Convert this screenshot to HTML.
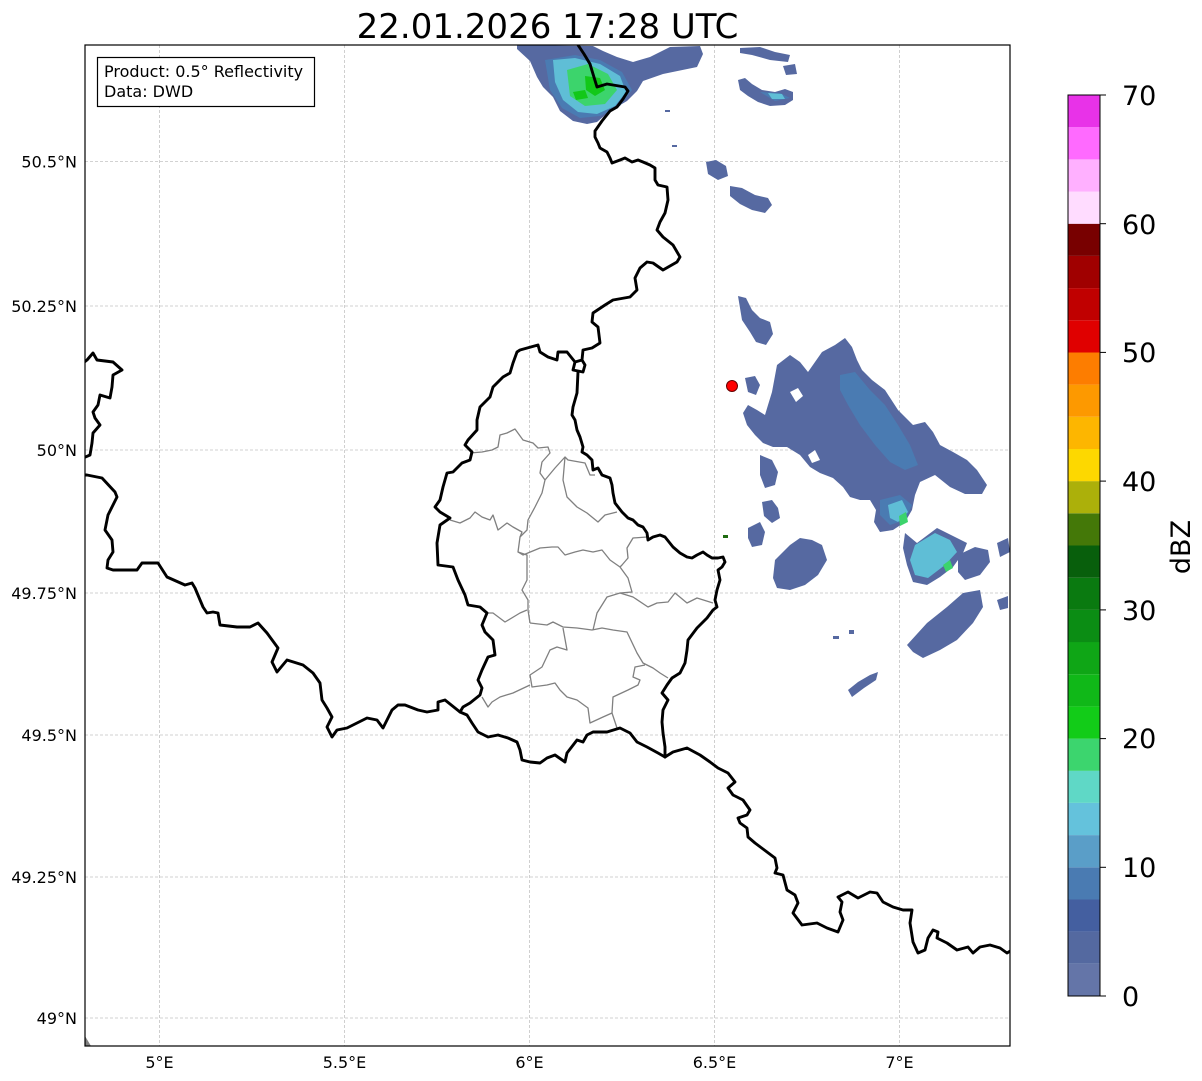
<!DOCTYPE html>
<html><head><meta charset="utf-8"><style>
html,body{margin:0;padding:0;background:#fff;}
svg{display:block;}
text{font-family:"DejaVu Sans","Liberation Sans",sans-serif;fill:#000;}
</style></head><body>
<svg width="1202" height="1081" viewBox="0 0 1202 1081" xmlns="http://www.w3.org/2000/svg">
<rect width="1202" height="1081" fill="#fff"/>
<text x="547.5" y="38" font-size="34" text-anchor="middle">22.01.2026 17:28 UTC</text>

<defs><clipPath id="ax"><rect x="85" y="45" width="925" height="1001"/></clipPath></defs>
<g clip-path="url(#ax)">
<!-- grid -->
<g stroke="#c4c4c4" stroke-width="0.8" stroke-dasharray="3 2" fill="none">
<line x1="159.5" y1="45" x2="159.5" y2="1046"/><line x1="344.5" y1="45" x2="344.5" y2="1046"/>
<line x1="529.5" y1="45" x2="529.5" y2="1046"/><line x1="714.5" y1="45" x2="714.5" y2="1046"/>
<line x1="899.5" y1="45" x2="899.5" y2="1046"/>
<line x1="85" y1="161.5" x2="1010" y2="161.5"/><line x1="85" y1="306" x2="1010" y2="306"/>
<line x1="85" y1="450" x2="1010" y2="450"/><line x1="85" y1="593" x2="1010" y2="593"/>
<line x1="85" y1="735" x2="1010" y2="735"/><line x1="85" y1="877" x2="1010" y2="877"/>
<line x1="85" y1="1018" x2="1010" y2="1018"/>
</g>

<!-- radar echoes -->
<g fill="#5669a1">
<polygon points="517,45 593,46 603,51 617,57 633,62 650,57 670,47 700,46 703,54 697,67 663,74 643,81 637,91 627,101 610,111 597,122 587,124 573,121 560,111 553,97 543,87 537,77 530,61 517,49"/>
<rect x="665" y="110" width="5" height="2"/><rect x="672" y="145" width="5" height="2"/>
<polygon points="738,80 745,78 752,84 762,90 775,92 785,89 793,92 793,100 785,105 770,106 758,102 748,96 740,90"/>
<polygon points="740,48 760,47 775,52 790,55 788,62 770,60 752,55 740,53"/>
<polygon points="783,66 795,64 797,74 786,75"/>
<polygon points="706,162 716,160 726,166 728,176 718,180 708,174"/>
<polygon points="730,186 742,188 755,195 768,198 772,205 765,213 752,210 740,204 730,196"/>
<polygon points="738,296 746,298 752,310 760,318 770,322 773,334 766,345 756,342 750,332 742,320 740,308"/>
<polygon points="777,365 790,355 800,362 808,372 815,362 822,352 835,345 845,338 852,347 857,360 862,370 872,380 885,390 898,410 913,425 925,422 933,432 940,445 953,452 967,460 977,470 987,485 982,494 965,494 950,487 935,475 920,482 915,495 912,510 905,522 893,530 880,532 874,522 876,510 870,500 860,500 850,497 843,487 833,478 820,473 810,467 800,455 787,447 773,447 763,443 755,435 747,425 743,413 748,405 757,410 765,415 768,405 772,392"/>
<polygon points="745,378 755,376 760,385 756,395 748,392"/>
<polygon points="760,455 772,460 778,472 775,485 765,488 760,475"/>
<polygon points="748,528 760,522 765,532 762,545 752,547 748,538"/>
<polygon points="762,502 772,500 778,508 780,518 772,523 764,516"/>
<polygon points="775,560 790,545 800,538 812,540 822,545 827,560 818,575 805,585 790,590 777,588 773,578"/>
<polygon points="905,533 917,543 937,528 947,533 957,538 967,543 963,553 953,567 940,577 927,585 913,582 907,565 903,548"/>
<polygon points="958,555 975,547 988,550 990,562 980,575 965,580 958,572"/>
<polygon points="997,543 1008,538 1010,552 1000,557"/>
<polygon points="997,600 1008,596 1008,608 1000,610"/>
<polygon points="907,645 927,623 947,607 963,593 980,590 983,607 973,623 957,640 940,650 923,658 913,652"/>
<polygon points="848,690 858,682 870,675 878,672 876,680 864,688 852,697"/>
<rect x="833" y="636" width="6" height="3"/><rect x="849" y="630" width="5" height="4"/>
</g>
<g fill="#fff">
<polygon points="790,392 798,388 803,396 796,402"/>
<polygon points="808,455 815,450 820,460 812,463"/>
</g>
<g fill="#4a7bb2">
<polygon points="545,60 575,55 600,60 622,72 632,90 620,106 600,116 580,118 562,108 550,90"/>
<polygon points="840,375 855,372 870,390 885,405 898,425 910,445 918,465 905,470 890,462 875,445 860,425 848,405 840,390"/>
<polygon points="880,500 900,495 912,505 905,520 890,525 880,515"/>
<polygon points="760,92 780,93 790,98 775,101"/>
</g>
<g fill="#5fbed6">
<polygon points="553,60 575,58 600,64 620,76 626,92 615,106 597,114 578,112 563,100 555,82"/>
<polygon points="888,505 902,500 908,512 898,522 890,518"/>
<polygon points="915,545 935,533 950,540 957,552 945,565 928,578 915,575 910,560"/>
<polygon points="768,93 782,94 785,99 772,99"/>
</g>
<g fill="#3cd46c">
<polygon points="567,70 588,64 608,74 617,90 605,104 585,106 570,96"/>
<polygon points="899,516 906,512 908,522 900,526"/>
<polygon points="943,565 950,560 953,568 946,572"/>
</g>
<g fill="#12c818">
<polygon points="585,76 600,78 605,90 595,96 586,90"/>
<polygon points="573,92 585,90 588,98 576,100"/>
</g>
<rect x="723" y="535" width="5" height="3" fill="#1f6b10"/>

<!-- grey district borders -->
<g fill="none" stroke="#808080" stroke-width="1.3" stroke-linejoin="round">
<polyline points="470,453 482,452 492,450 498,447 500,435 507,433 515,429 523,440 533,443 538,448 548,447 550,453 542,462 540,473 545,480 542,493 535,507 528,520 527,530 520,537 518,552 527,555 527,567 527,580 522,590 528,600 528,610 530,623"/>
<polyline points="545,480 555,468 565,457 568,460 585,463 590,475 595,475"/>
<polyline points="565,457 563,480 567,497 577,507 587,513 598,522 605,515 617,512"/>
<polyline points="450,520 460,523 470,518 475,512 482,517 490,520 493,515 498,530 507,523 513,527 522,532 520,537"/>
<polyline points="518,552 523,555 540,548 552,547 558,547 565,555 575,552 583,550 593,552 602,550 610,560 620,567 628,578 632,592 620,593"/>
<polyline points="593,630 597,613 607,597 620,593 633,597 648,607 657,603 668,602 675,593 687,603 697,598 713,603"/>
<polyline points="488,613 493,613 505,622 520,613 527,610"/>
<polyline points="530,623 547,625 553,622 563,627 577,628 592,630 602,628 613,630 627,632 637,653 643,663 653,668 660,673 668,678"/>
<polyline points="563,628 567,650 557,647 550,650 542,667 530,675 532,687 547,685 555,683 560,690 567,697 577,700 588,708 590,723 603,717 612,713 617,728"/>
<polyline points="612,713 613,697 628,690 638,685 640,680 633,677 635,667 645,665"/>
<polyline points="530,685 513,693 500,697 492,702 488,707 482,697"/>
<polyline points="647,537 633,538 627,548 628,558 622,565 620,567"/>
</g>

<!-- black country borders -->
<g fill="none" stroke="#000" stroke-width="2.9" stroke-linejoin="round" stroke-linecap="round">
<polyline points="578,45 584,54 590,64 593,74 597,87 607,84 625,87 628,91 623,99 617,107 610,111 602,121 595,131 595,137 598,143 600,148 607,152 610,158 612,163 620,160 625,158 632,162 638,160 643,162 650,165 655,168 655,175 655,180 658,185 667,187 668,200 665,213 660,222 657,230 663,237 673,245 680,257 677,262 663,270 653,263 647,262 640,268 635,278 637,290 630,297 613,300 605,305 593,313 592,322 598,327 600,343 592,348 583,350 582,360 575,362 573,370 583,372 585,365 582,360"/>
<polyline points="578,372 577,393 573,407 572,415 575,420 577,430 580,437 583,447 582,452 587,455 592,460 593,470 598,468 602,475 610,478 612,485 613,493 615,503 622,512 628,518 633,520 638,525 643,527 647,533 648,540 653,537 660,535 665,537 673,547 680,553 687,557 692,558 697,555 703,552 707,555 712,558 718,558 723,557 725,562 722,567 718,570 720,580 717,590 715,600 717,607 713,610 707,618 697,628 688,640 687,650 685,663 680,673 672,678 667,685 662,693 668,700 663,710 662,722 663,733 665,747 665,757"/>
<polyline points="575,362 567,352 558,352 557,360 548,357 540,352 538,345 520,350 517,352 513,363 510,373 503,377 493,387 490,397 480,407 477,420 477,430 468,440 465,445 472,452 470,460 462,463 453,472 447,473 443,487 440,500 435,507 440,512 450,518 440,525 437,543 438,565 453,567 458,580 465,595 468,605 480,607 487,613 482,625 485,632 493,640 495,655 488,657 482,670 478,680 482,688 480,695 470,703 463,707 460,712 467,715 472,723 478,732 488,737 498,735 508,738 517,742 520,750 522,760 530,762 540,763 547,758 555,755 565,762 567,753 577,740 583,742 587,735 593,732 607,732 620,728 630,733 637,742 647,747 658,753 665,757"/>
<polyline points="665,757 673,752 687,748 700,755 710,762 718,768 728,773 735,782 728,788 733,795 743,800 750,810 747,815 738,818 740,823 747,828 748,837 755,843 767,852 775,858 777,868 775,873 783,875 787,890 795,895 798,903 793,913 802,925 817,923 827,928 838,932 843,920 840,912 842,902 838,897 848,892 858,898 870,892 877,893 883,902 893,907 903,910 912,910 910,923 913,942 918,953 925,950 928,938 933,930 938,932 937,938 947,943 957,950 968,947 973,953 980,947 990,945 1000,948 1007,953 1012,950"/>
<polyline points="460,712 445,700 438,702 438,710 427,712 418,710 405,705 398,705 392,710 387,720 383,728 377,720 367,718 357,723 347,728 337,730 332,737 327,727 332,717 327,708 322,700 320,683 313,673 303,665 287,660 277,672 272,662 278,648 267,633 258,623 250,627 237,627 220,625 218,613 213,612 207,613 203,607 195,588 192,583 185,585 167,577 158,563 142,563 137,570 125,570 113,570 107,568 108,560 113,552 112,540 105,530 108,515 117,497 115,492 102,478 87,475 83,475"/>
<polyline points="83,363 87,360 93,353 97,360 113,362 122,370 113,375 112,387 110,398 100,395 98,405 93,412 95,418 100,425 93,433 92,443 90,455 83,458"/>
</g>
<polygon points="85,1036 91,1046 85,1046" fill="#808080"/>
<circle cx="732" cy="386" r="5.5" fill="#ff0000" stroke="#600" stroke-width="1"/>
</g>
<rect x="85" y="45" width="925" height="1001" fill="none" stroke="#000" stroke-width="1.2"/>

<!-- info box -->
<rect x="97.5" y="57.5" width="217" height="49" fill="#fff" stroke="#000" stroke-width="1.2"/>
<text x="104" y="77" font-size="16">Product: 0.5° Reflectivity</text>
<text x="104" y="97" font-size="16">Data: DWD</text>

<!-- y labels -->
<g font-size="16" text-anchor="end">
<text x="77" y="167.5">50.5°N</text>
<text x="77" y="312">50.25°N</text>
<text x="77" y="456">50°N</text>
<text x="77" y="599">49.75°N</text>
<text x="77" y="741">49.5°N</text>
<text x="77" y="883">49.25°N</text>
<text x="77" y="1024">49°N</text>
</g>
<g font-size="16" text-anchor="middle">
<text x="159.5" y="1068">5°E</text>
<text x="344.5" y="1068">5.5°E</text>
<text x="529.5" y="1068">6°E</text>
<text x="714.5" y="1068">6.5°E</text>
<text x="899.5" y="1068">7°E</text>
</g>

<!-- colorbar -->
<g>
<rect x="1068" y="963.8" width="32" height="32.2" fill="#6475a8"/>
<rect x="1068" y="931.6" width="32" height="32.2" fill="#5469a0"/>
<rect x="1068" y="899.4" width="32" height="32.2" fill="#445fa0"/>
<rect x="1068" y="867.3" width="32" height="32.2" fill="#4a7bb2"/>
<rect x="1068" y="835.1" width="32" height="32.2" fill="#5a9ec8"/>
<rect x="1068" y="802.9" width="32" height="32.2" fill="#64c2dc"/>
<rect x="1068" y="770.7" width="32" height="32.2" fill="#5fd8c6"/>
<rect x="1068" y="738.6" width="32" height="32.2" fill="#3cd56e"/>
<rect x="1068" y="706.4" width="32" height="32.2" fill="#12cc18"/>
<rect x="1068" y="674.2" width="32" height="32.2" fill="#10b818"/>
<rect x="1068" y="642.0" width="32" height="32.2" fill="#0fa616"/>
<rect x="1068" y="609.9" width="32" height="32.2" fill="#0b8d14"/>
<rect x="1068" y="577.7" width="32" height="32.2" fill="#0a7a10"/>
<rect x="1068" y="545.5" width="32" height="32.2" fill="#085f0c"/>
<rect x="1068" y="513.3" width="32" height="32.2" fill="#447808"/>
<rect x="1068" y="481.1" width="32" height="32.2" fill="#acb00a"/>
<rect x="1068" y="449.0" width="32" height="32.2" fill="#fdd800"/>
<rect x="1068" y="416.8" width="32" height="32.2" fill="#fdb600"/>
<rect x="1068" y="384.6" width="32" height="32.2" fill="#fd9900"/>
<rect x="1068" y="352.4" width="32" height="32.2" fill="#fd7d00"/>
<rect x="1068" y="320.3" width="32" height="32.2" fill="#e00000"/>
<rect x="1068" y="288.1" width="32" height="32.2" fill="#c00000"/>
<rect x="1068" y="255.9" width="32" height="32.2" fill="#a00000"/>
<rect x="1068" y="223.7" width="32" height="32.2" fill="#780000"/>
<rect x="1068" y="191.6" width="32" height="32.2" fill="#ffdcff"/>
<rect x="1068" y="159.4" width="32" height="32.2" fill="#ffb0ff"/>
<rect x="1068" y="127.2" width="32" height="32.2" fill="#ff6aff"/>
<rect x="1068" y="95" width="32" height="32.2" fill="#e832e8"/>
<rect x="1068" y="95" width="32" height="901" fill="none" stroke="#000" stroke-width="1"/>
<g stroke="#000" stroke-width="1">
<line x1="1100" y1="996" x2="1106" y2="996"/><line x1="1100" y1="867.3" x2="1106" y2="867.3"/>
<line x1="1100" y1="738.6" x2="1106" y2="738.6"/><line x1="1100" y1="609.9" x2="1106" y2="609.9"/>
<line x1="1100" y1="481.1" x2="1106" y2="481.1"/><line x1="1100" y1="352.4" x2="1106" y2="352.4"/>
<line x1="1100" y1="223.7" x2="1106" y2="223.7"/><line x1="1100" y1="95" x2="1106" y2="95"/>
</g>
<g font-size="27">
<text x="1122" y="1006">0</text>
<text x="1122" y="877">10</text>
<text x="1122" y="748">20</text>
<text x="1122" y="620">30</text>
<text x="1122" y="491">40</text>
<text x="1122" y="362">50</text>
<text x="1122" y="234">60</text>
<text x="1122" y="105">70</text>
</g>
<text transform="translate(1190,547) rotate(-90)" font-size="27" text-anchor="middle">dBZ</text>
</g>
</svg>
</body></html>
